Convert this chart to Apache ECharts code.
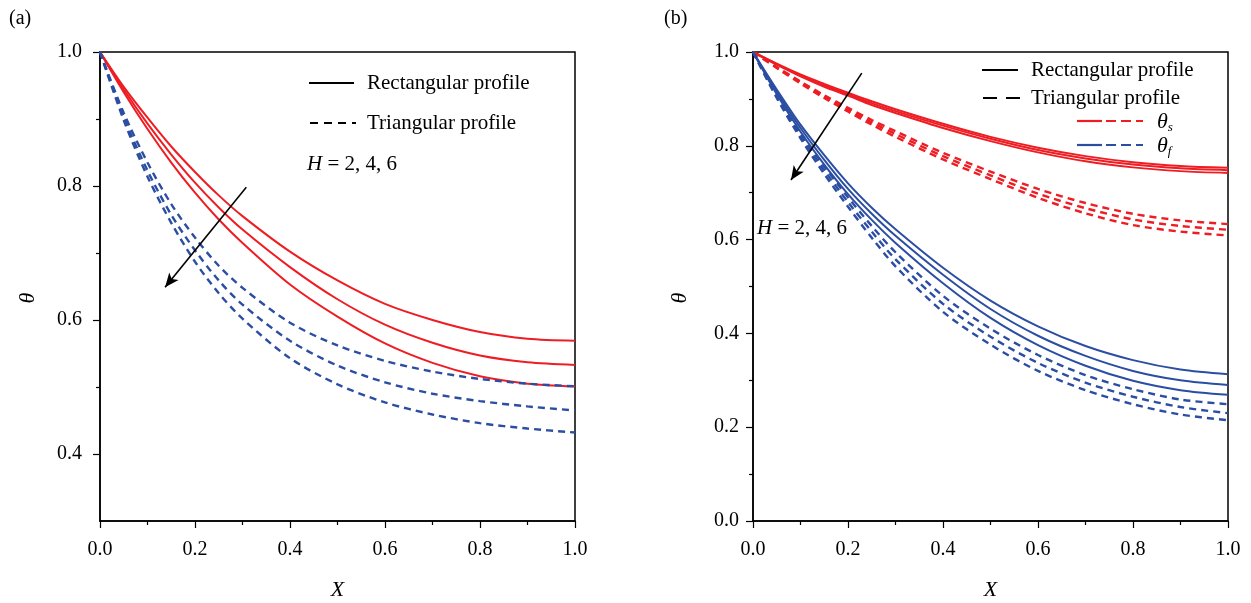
<!DOCTYPE html>
<html>
<head>
<meta charset="utf-8">
<script src="https://cdn.jsdelivr.net/npm/echarts@6/dist/echarts.min.js"></script>
<style>
  html, body { margin: 0; padding: 0; background: #fff; }
  #chart { width: 1251px; height: 603px; }
</style>
</head>
<body>
<div id="chart"></div>
<script>
// shared X positions for every curve
const xs = [0, 0.05, 0.1, 0.15, 0.2, 0.25, 0.3, 0.4, 0.5, 0.6, 0.7, 0.8, 0.9, 1.0]

// panel (a): rectangular profile (solid red), H = 2, 4, 6
const aRect2 = [1, 0.948, 0.902, 0.859, 0.821, 0.786, 0.755, 0.702, 0.659, 0.624, 0.600, 0.582, 0.572, 0.569]
const aRect4 = [1, 0.944, 0.893, 0.847, 0.805, 0.768, 0.735, 0.679, 0.631, 0.593, 0.566, 0.547, 0.537, 0.533]
const aRect6 = [1, 0.940, 0.885, 0.835, 0.790, 0.750, 0.715, 0.653, 0.605, 0.565, 0.536, 0.516, 0.505, 0.501]
// panel (a): triangular profile (dashed blue)
const aTri2 = [1, 0.909, 0.835, 0.773, 0.723, 0.681, 0.648, 0.596, 0.562, 0.539, 0.523, 0.512, 0.505, 0.501]
const aTri4 = [1, 0.903, 0.823, 0.757, 0.704, 0.659, 0.623, 0.569, 0.532, 0.507, 0.490, 0.479, 0.471, 0.465]
const aTri6 = [1, 0.898, 0.814, 0.745, 0.687, 0.640, 0.602, 0.543, 0.504, 0.477, 0.459, 0.446, 0.438, 0.432]

// panel (b): theta_s (red)
const bSRect2 = [1, 0.975, 0.952, 0.932, 0.913, 0.895, 0.878, 0.847, 0.819, 0.796, 0.778, 0.765, 0.757, 0.753]
const bSRect4 = [1, 0.974, 0.950, 0.929, 0.910, 0.891, 0.874, 0.843, 0.815, 0.791, 0.773, 0.760, 0.752, 0.748]
const bSRect6 = [1, 0.973, 0.948, 0.926, 0.907, 0.887, 0.870, 0.838, 0.810, 0.786, 0.767, 0.754, 0.746, 0.742]
const bSTri2 = [1, 0.968, 0.937, 0.908, 0.881, 0.855, 0.831, 0.785, 0.745, 0.708, 0.678, 0.655, 0.641, 0.633]
const bSTri4 = [1, 0.967, 0.935, 0.905, 0.877, 0.850, 0.825, 0.778, 0.737, 0.698, 0.667, 0.643, 0.629, 0.621]
const bSTri6 = [1, 0.966, 0.933, 0.902, 0.873, 0.845, 0.819, 0.771, 0.729, 0.689, 0.656, 0.631, 0.617, 0.609]
// panel (b): theta_f (blue)
const bFRect2 = [1, 0.920, 0.845, 0.780, 0.720, 0.668, 0.622, 0.540, 0.470, 0.415, 0.373, 0.343, 0.323, 0.313]
const bFRect4 = [1, 0.915, 0.838, 0.770, 0.708, 0.655, 0.608, 0.525, 0.452, 0.395, 0.352, 0.320, 0.300, 0.290]
const bFRect6 = [1, 0.910, 0.830, 0.760, 0.697, 0.642, 0.593, 0.507, 0.433, 0.375, 0.331, 0.299, 0.279, 0.269]
const bFTri2 = [1, 0.908, 0.828, 0.756, 0.690, 0.629, 0.573, 0.480, 0.410, 0.354, 0.311, 0.281, 0.259, 0.249]
const bFTri4 = [1, 0.905, 0.822, 0.748, 0.680, 0.617, 0.558, 0.463, 0.393, 0.337, 0.295, 0.265, 0.243, 0.230]
const bFTri6 = [1, 0.902, 0.816, 0.740, 0.670, 0.604, 0.543, 0.446, 0.376, 0.320, 0.279, 0.249, 0.227, 0.215]

// tick values
const yTicksA = [0.4, 0.6, 0.8, 1.0]
const yMinorA = [0.5, 0.7, 0.9]

// "H increases" arrows, in data coords [start, end]
const arrowA = [[0.308, 0.798], [0.137, 0.649]]
const arrowB = [[0.229, 0.955], [0.080, 0.727]]

const RED = '#ee1d23'
const BLUE = '#2b4ea3'
const FONT = 'Liberation Serif'

const chart = echarts.init(document.getElementById('chart'))

const toPts = ys => xs.map((x, i) => [x, ys[i]])

const tickLabel = margin => ({
  color: '#000', fontFamily: FONT, fontSize: 20, margin, formatter: v => v.toFixed(1)
})

const makeX = gridIndex => ({
  type: 'value',
  gridIndex,
  min: 0,
  max: 1,
  interval: 0.2,
  axisLine: { onZero: false, lineStyle: { color: '#000', width: 1.5 } },
  axisTick: { length: 7, lineStyle: { color: '#000', width: 1.2 } },
  minorTick: { show: true, splitNumber: 2, length: 4, lineStyle: { color: '#000', width: 1.2 } },
  splitLine: { show: false },
  axisLabel: tickLabel(19),
  name: 'X',
  nameLocation: 'middle',
  nameGap: 58,
  nameTextStyle: { color: '#000', fontFamily: FONT, fontSize: 22, fontStyle: 'italic' }
})

const line = (name, ys, color, dashed, xi) => ({
  name,
  type: 'line',
  xAxisIndex: xi,
  yAxisIndex: xi === 0 ? 0 : 2,
  data: toPts(ys),
  showSymbol: false,
  smooth: 0.3,
  lineStyle: { color, width: dashed ? 2.4 : 2, type: dashed ? [7, 5] : 'solid' },
  silent: true
})

const arrow = pts => ({
  silent: true,
  symbol: ['none', 'arrow'],
  symbolSize: [9, 14],
  label: { show: false },
  lineStyle: { color: '#000', width: 1.6, type: 'solid' },
  data: [[{ coord: pts[0] }, { coord: pts[1] }]]
})

const txt = (left, top, text, size) => ({
  type: 'text',
  left,
  top,
  style: { text, fill: '#000', font: (size || 21) + 'px "Liberation Serif"' }
})

const seg = (x1, y, x2, color, dash) => ({
  type: 'line',
  shape: { x1, y1: y, x2, y2: y },
  style: { stroke: color, lineWidth: 2.2, lineDash: dash || null }
})

const hText = (left, top) => ({
  type: 'text', left, top,
  style: {
    text: '{i|H} = 2, 4, 6',
    rich: { i: { fontStyle: 'italic', fontFamily: FONT, fontSize: 21 } },
    font: '21px "Liberation Serif"', fill: '#000'
  }
})

const thetaText = (left, top, sub) => ({
  type: 'text', left, top,
  style: {
    text: '{t|θ}{s|' + sub + '}',
    rich: {
      t: { fontStyle: 'italic', fontFamily: FONT, fontSize: 22, fill: '#000' },
      s: { fontStyle: 'italic', fontFamily: FONT, fontSize: 13, fill: '#000', padding: [11, 0, 0, 0] }
    }
  }
})

// rotated y-axis title
const yTitle = (x, y) => ({
  type: 'text',
  x, y,
  rotation: Math.PI / 2,
  style: {
    text: 'θ', fill: '#000', font: 'italic 22px "Liberation Serif"',
    align: 'center', verticalAlign: 'middle'
  }
})

const option = {
  animation: false,
  backgroundColor: '#fff',
  grid: [
    { left: 100, right: 676, top: 52, bottom: 82, outerBoundsMode: 'none', show: true, borderColor: '#000', borderWidth: 1.5 },
    { left: 753, right: 23, top: 52, bottom: 82, outerBoundsMode: 'none', show: true, borderColor: '#000', borderWidth: 1.5 }
  ],
  xAxis: [makeX(0), makeX(1)],
  yAxis: [
    {
      type: 'value', gridIndex: 0, min: 0.3, max: 1,
      axisLine: { lineStyle: { color: '#000', width: 1.5 } },
      axisTick: { length: 7, customValues: yTicksA, lineStyle: { color: '#000', width: 1.2 } },
      splitLine: { show: false },
      axisLabel: Object.assign(tickLabel(18), { customValues: yTicksA })
    },
    {
      type: 'value', gridIndex: 0, min: 0.3, max: 1, position: 'left',
      axisLine: { show: false },
      axisTick: { length: 4, customValues: yMinorA, lineStyle: { color: '#000', width: 1.2 } },
      splitLine: { show: false },
      axisLabel: { show: false }
    },
    {
      type: 'value', gridIndex: 1, min: 0, max: 1, interval: 0.2,
      axisLine: { lineStyle: { color: '#000', width: 1.5 } },
      axisTick: { length: 7, lineStyle: { color: '#000', width: 1.2 } },
      minorTick: { show: true, splitNumber: 2, length: 4, lineStyle: { color: '#000', width: 1.2 } },
      splitLine: { show: false },
      axisLabel: tickLabel(14)
    }
  ],
  series: [
    Object.assign(line('rect H=2', aRect2, RED, false, 0), { markLine: arrow(arrowA) }),
    line('rect H=4', aRect4, RED, false, 0),
    line('rect H=6', aRect6, RED, false, 0),
    line('tri H=2', aTri2, BLUE, true, 0),
    line('tri H=4', aTri4, BLUE, true, 0),
    line('tri H=6', aTri6, BLUE, true, 0),

    line('θs rect H=2', bSRect2, RED, false, 1),
    line('θs rect H=4', bSRect4, RED, false, 1),
    line('θs rect H=6', bSRect6, RED, false, 1),
    line('θs tri H=2', bSTri2, RED, true, 1),
    line('θs tri H=4', bSTri4, RED, true, 1),
    line('θs tri H=6', bSTri6, RED, true, 1),
    line('θf rect H=2', bFRect2, BLUE, false, 1),
    line('θf rect H=4', bFRect4, BLUE, false, 1),
    line('θf rect H=6', bFRect6, BLUE, false, 1),
    line('θf tri H=2', bFTri2, BLUE, true, 1),
    line('θf tri H=4', bFTri4, BLUE, true, 1),
    Object.assign(line('θf tri H=6', bFTri6, BLUE, true, 1), { markLine: arrow(arrowB) })
  ],
  graphic: [
    txt(9, 9, '(a)', 20),
    txt(664, 9, '(b)', 20),
    yTitle(28, 298),
    yTitle(680, 298),

    // legend (a)
    seg(309, 83, 354, '#000'),
    txt(367, 73, 'Rectangular profile'),
    seg(310, 123, 356, '#000', [8, 6]),
    txt(367, 113, 'Triangular profile'),
    hText(307, 154),

    // legend (b)
    seg(982, 70, 1018, '#000'),
    txt(1031, 60, 'Rectangular profile'),
    seg(983, 98, 1021, '#000', [14, 9]),
    txt(1031, 88, 'Triangular profile'),
    seg(1077, 121, 1102, RED),
    seg(1106, 121, 1143, RED, [10, 5]),
    seg(1077, 145, 1102, BLUE),
    seg(1106, 145, 1143, BLUE, [10, 5]),
    thetaText(1157, 111, 's'),
    thetaText(1157, 135, 'f'),
    hText(757, 218)
  ]
}

chart.setOption(option)
</script>
</body>
</html>
